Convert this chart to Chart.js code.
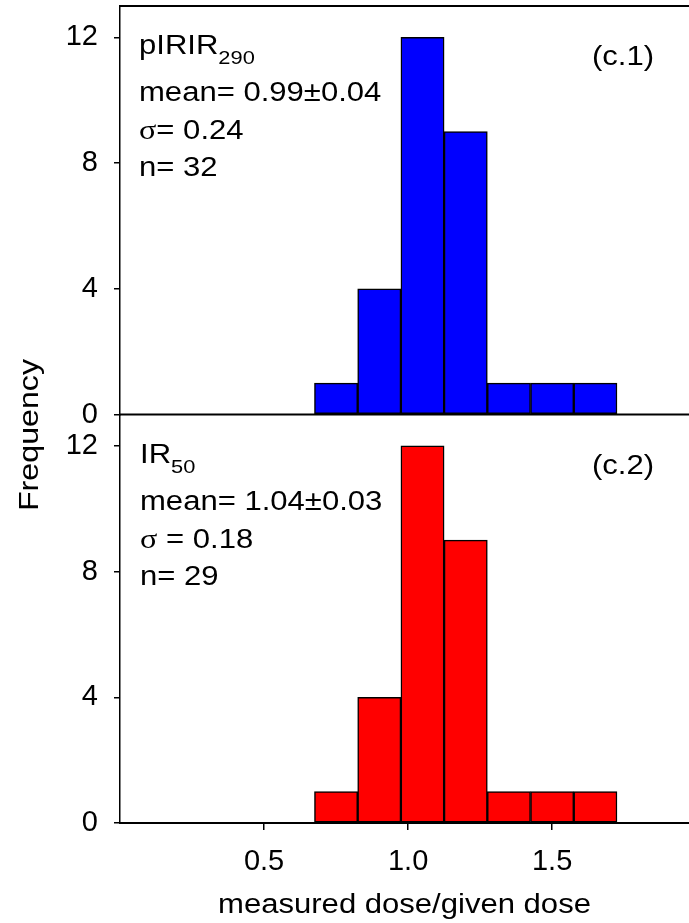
<!DOCTYPE html>
<html>
<head>
<meta charset="utf-8">
<script src="https://cdn.jsdelivr.net/npm/chart.js@4.4.0/dist/chart.umd.min.js"></script>
<style>
  body { margin: 0; background: #fff; }
  canvas { display: block; }
</style>
</head>
<body>
<canvas id="hist" width="689" height="923"></canvas>
<script>
// histogram bins (centres, width 0.15)
const binCenters = [0.75, 0.9, 1.05, 1.2, 1.35, 1.5, 1.65];
const pirirCounts = [1, 4, 12, 9, 1, 1, 1];
const ir50Counts = [1, 4, 12, 9, 1, 1, 1];
const xTicks = [0.5, 1.0, 1.5];
const yTicks = [0, 4, 8, 12];

const topNotes = [
  [{ t: 'pIRIR' }, { t: '290', sub: true }],
  [{ t: 'mean= 0.99\u00b10.04' }],
  [{ t: '\u03c3', serif: true }, { t: '= 0.24' }],
  [{ t: 'n= 32' }]
];
const botNotes = [
  [{ t: 'IR' }, { t: '50', sub: true }],
  [{ t: 'mean= 1.04\u00b10.03' }],
  [{ t: '\u03c3', serif: true }, { t: ' = 0.18' }],
  [{ t: 'n= 29' }]
];

const SANS = '"Liberation Sans", Arial, sans-serif';
const SERIF = '"Liberation Serif", "Times New Roman", serif';
const STRETCH = 1.15;

function stretched(ctx, str, x, y, font) {
  ctx.save();
  ctx.font = font;
  const w = ctx.measureText(str).width * STRETCH;
  ctx.translate(x, y);
  ctx.scale(STRETCH, 1);
  ctx.fillText(str, 0, 0);
  ctx.restore();
  return w;
}

function drawNotes(ctx, rows, x, top) {
  const offs = [48, 95, 133, 170];
  rows.forEach((row, i) => {
    let cx = x;
    const y = top + offs[i];
    row.forEach(seg => {
      if (seg.sub) {
        cx += stretched(ctx, seg.t, cx, y + 10, '19px ' + SANS);
      } else {
        cx += stretched(ctx, seg.t, cx, y, (seg.serif ? '28px ' : '27px ') + (seg.serif ? SERIF : SANS));
      }
    });
  });
}

const decor = {
  id: 'decor',
  afterDatasetsDraw(chart) {
    const { ctx, chartArea } = chart;
    const yTop = chart.scales.yTop;
    const yBot = chart.scales.yBot;
    ctx.save();
    ctx.strokeStyle = '#000';
    ctx.lineWidth = 2;
    ctx.beginPath();
    ctx.moveTo(chartArea.left, chartArea.top);
    ctx.lineTo(chartArea.right, chartArea.top);
    const y0 = yTop.getPixelForValue(0);
    ctx.moveTo(chartArea.left, y0);
    ctx.lineTo(chartArea.right, y0);
    ctx.stroke();

    ctx.fillStyle = '#000';
    ctx.textBaseline = 'alphabetic';
    ctx.textAlign = 'left';
    drawNotes(ctx, topNotes, chartArea.left + 19, yTop.top);
    drawNotes(ctx, botNotes, chartArea.left + 20, yBot.top);
    stretched(ctx, '(c.1)', chartArea.left + 472, yTop.top + 59, '27px ' + SANS);
    stretched(ctx, '(c.2)', chartArea.left + 472, yBot.top + 59, '27px ' + SANS);

    // axis titles
    ctx.font = '27px ' + SANS;
    const xt = 'measured dose/given dose';
    const xw = ctx.measureText(xt).width * STRETCH;
    stretched(ctx, xt, (chartArea.left + chartArea.right) / 2 - xw / 2, 913, '27px ' + SANS);
    ctx.font = '28px ' + SANS;
    const yt = 'Frequency';
    const yw = ctx.measureText(yt).width * STRETCH;
    ctx.translate(38, 435);
    ctx.rotate(-Math.PI / 2);
    stretched(ctx, yt, -yw / 2, 0, '28px ' + SANS);
    ctx.restore();
  }
};

function yAxis() {
  return {
    type: 'linear',
    position: 'left',
    stack: 'freq',
    stackWeight: 1,
    min: 0,
    max: 13,
    offset: false,
    grid: { display: true, offset: false, drawOnChartArea: false, drawTicks: true, tickLength: 6, color: '#000', lineWidth: 1.5 },
    border: { display: true, color: '#000', width: 1.5 },
    afterBuildTicks: s => { s.ticks = yTicks.map(v => ({ value: v })); },
    ticks: { color: '#000', padding: 16, font: { family: SANS, size: 29 } },
    afterFit: s => { s.width = 120; s.paddingTop = 0; s.paddingBottom = 0; }
  };
}

const barStyle = {
  borderColor: '#000',
  borderWidth: 1.5,
  borderSkipped: false,
  barPercentage: 1,
  categoryPercentage: 1,
  grouped: false
};

new Chart(document.getElementById('hist').getContext('2d'), {
  type: 'bar',
  data: {
    datasets: [
      Object.assign({
        label: 'pIRIR290',
        data: binCenters.map((x, i) => ({ x: x, y: pirirCounts[i] })),
        backgroundColor: '#0000ff',
        yAxisID: 'yTop'
      }, barStyle),
      Object.assign({
        label: 'IR50',
        data: binCenters.map((x, i) => ({ x: x, y: ir50Counts[i] })),
        backgroundColor: '#ff0000',
        yAxisID: 'yBot'
      }, barStyle)
    ]
  },
  options: {
    responsive: false,
    animation: false,
    layout: { padding: { top: 6, right: 0, left: 0, bottom: 0 } },
    scales: {
      x: {
        type: 'linear',
        min: 0,
        max: 1.975,
        offset: false,
        grid: { display: true, offset: false, drawOnChartArea: false, drawTicks: true, tickLength: 7, color: '#000', lineWidth: 1.5 },
        border: { display: true, color: '#000', width: 2 },
        afterBuildTicks: s => { s.ticks = xTicks.map(v => ({ value: v })); },
        ticks: { color: '#000', padding: 15, font: { family: SANS, size: 29 }, callback: v => v.toFixed(1) },
        afterFit: s => { s.height = 100; s.paddingLeft = 0; s.paddingRight = 0; }
      },
      yBot: yAxis(),
      yTop: yAxis()
    },
    plugins: {
      legend: { display: false },
      tooltip: { enabled: false }
    }
  },
  plugins: [decor]
});
</script>
</body>
</html>
